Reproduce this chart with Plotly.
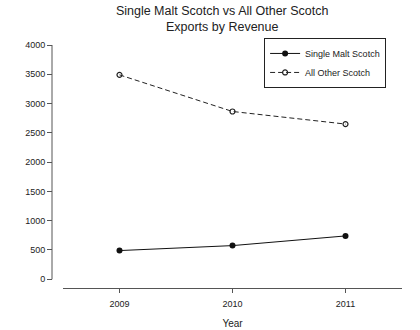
import plotly.graph_objects as go

# Export revenue by year
years = [2009, 2010, 2011]
single_malt = [490, 575, 740]
all_other = [3490, 2865, 2650]
y_ticks = [0, 500, 1000, 1500, 2000, 2500, 3000, 3500, 4000]

FONT = "Liberation Sans, Arial, sans-serif"
INK = "#222222"
AXIS = "#555555"

fig = go.Figure()
fig.add_trace(go.Scatter(
    x=years, y=single_malt, name="Single Malt Scotch", mode="lines+markers",
    line=dict(color="#111111", width=1),
    marker=dict(symbol="circle", size=6, color="#111111"),
))
fig.add_trace(go.Scatter(
    x=years, y=all_other, name="All Other Scotch", mode="lines+markers",
    line=dict(color="#222222", width=1, dash="5px,3px"),
    marker=dict(symbol="circle-open", size=5, color="#222222", line=dict(width=1.2)),
))

# detached y-axis line spanning the tick range only
fig.add_shape(type="line", xref="paper", yref="y", x0=0, x1=0,
              y0=y_ticks[0], y1=y_ticks[-1], line=dict(color=AXIS, width=1))

# y-axis title, set at the far left edge of the page
fig.add_annotation(text="Revenue (£ million)", textangle=-90, xref="paper", yref="paper",
                   x=-0.145, y=0.03, xanchor="right", yanchor="middle", showarrow=False,
                   font=dict(family=FONT, size=10, color=INK))

fig.update_layout(
    width=420, height=330,
    margin=dict(l=52, r=18, t=45, b=42, autoexpand=False),
    paper_bgcolor="white", plot_bgcolor="white",
    font=dict(family=FONT, size=9, color=INK),
    title=dict(text="Single Malt Scotch vs All Other Scotch<br>Exports by Revenue",
               xref="container", yref="container", x=0.529, y=0.955,
               xanchor="center", yanchor="top",
               font=dict(family=FONT, size=12.5, color=INK)),
    showlegend=True,
    legend=dict(x=0.606, y=1.029, xanchor="left", yanchor="top",
                bordercolor="#222222", borderwidth=1, bgcolor="white",
                itemwidth=30, tracegroupgap=0,
                font=dict(family=FONT, size=9, color=INK)),
    xaxis=dict(domain=[0.0314, 1], range=[2008.5, 2011.5], automargin=False,
               tickvals=years, ticktext=[str(y) for y in years],
               showline=True, linecolor=AXIS, linewidth=1,
               ticks="outside", ticklen=4, tickcolor=AXIS, ticklabelstandoff=3,
               showgrid=False, zeroline=False,
               title=dict(text="Year", font=dict(family=FONT, size=10, color=INK), standoff=12)),
    yaxis=dict(anchor="free", position=0, range=[-149, 4000], automargin=False,
               tickvals=y_ticks, showline=False,
               ticks="outside", ticklen=5, tickcolor=AXIS,
               showgrid=False, zeroline=False),
)

fig.write_html("out.html")
